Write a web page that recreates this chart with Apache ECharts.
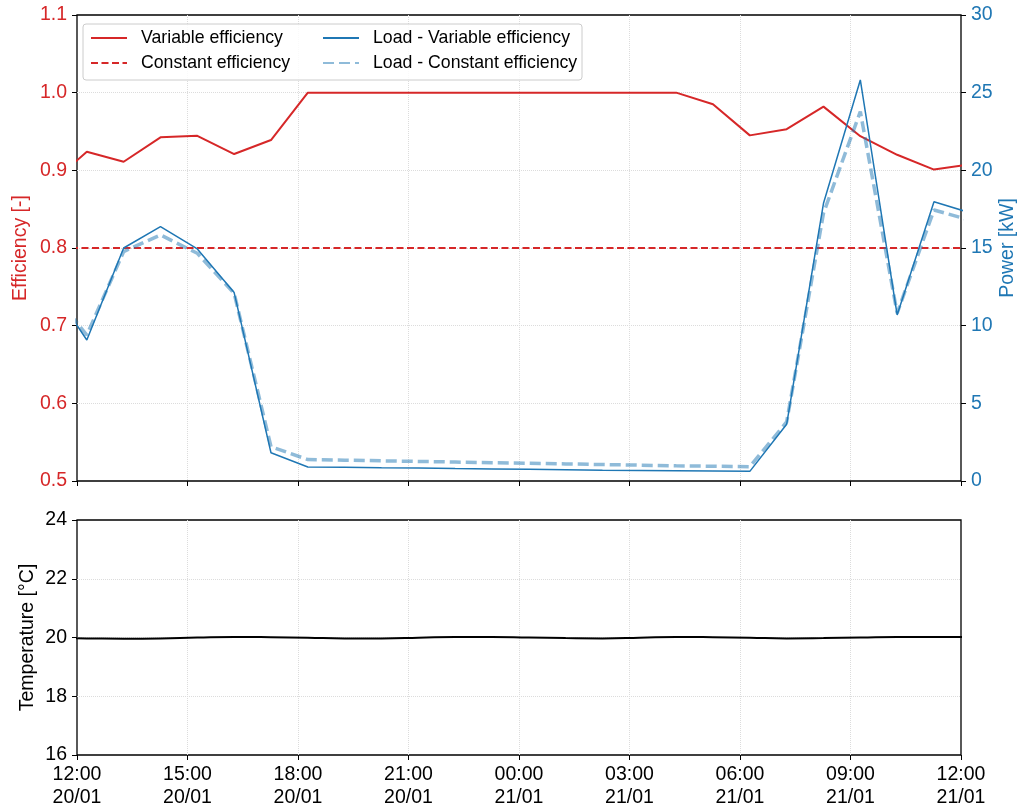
<!DOCTYPE html>
<html>
<head>
<meta charset="utf-8">
<script src="https://cdn.jsdelivr.net/npm/echarts@6/dist/echarts.min.js"></script>
<style>
html, body { margin: 0; padding: 0; background: #fff; }
#main { width: 1019px; height: 807px; }
</style>
</head>
<body>
<div id="main"></div>
<script>
// hourly samples (UTC), first and last fall just outside the visible window
var times = [
	'2021-01-20T11:16', '2021-01-20T12:16', '2021-01-20T13:16', '2021-01-20T14:16', '2021-01-20T15:16',
	'2021-01-20T16:16', '2021-01-20T17:16', '2021-01-20T18:16', '2021-01-20T19:16', '2021-01-20T20:16',
	'2021-01-20T21:16', '2021-01-20T22:16', '2021-01-20T23:16', '2021-01-21T00:16', '2021-01-21T01:16',
	'2021-01-21T02:16', '2021-01-21T03:16', '2021-01-21T04:16', '2021-01-21T05:16', '2021-01-21T06:16',
	'2021-01-21T07:16', '2021-01-21T08:16', '2021-01-21T09:16', '2021-01-21T10:16', '2021-01-21T11:16',
	'2021-01-21T12:16'
];
var varEff = [0.882, 0.924, 0.911, 0.9425, 0.9445, 0.921, 0.939, 1.0, 1.0, 1.0, 1.0, 1.0, 1.0,
	1.0, 1.0, 1.0, 1.0, 1.0, 0.985, 0.945, 0.953, 0.982, 0.944, 0.920, 0.901, 0.908];
var constEff = [0.8, 0.8, 0.8, 0.8, 0.8, 0.8, 0.8, 0.8, 0.8, 0.8, 0.8, 0.8, 0.8,
	0.8, 0.8, 0.8, 0.8, 0.8, 0.8, 0.8, 0.8, 0.8, 0.8, 0.8, 0.8, 0.8];
var loadVar = [12.6, 9.08, 15.0, 16.38, 14.94, 12.13, 1.82, 0.9, 0.88, 0.85, 0.83, 0.80, 0.78,
	0.75, 0.73, 0.70, 0.68, 0.66, 0.64, 0.62, 3.65, 17.88, 25.82, 10.69, 17.98, 17.25];
var loadConst = [12.3, 9.4, 14.77, 15.84, 14.66, 12.08, 2.21, 1.38, 1.34, 1.30, 1.26, 1.22, 1.18,
	1.14, 1.10, 1.06, 1.02, 0.98, 0.95, 0.92, 3.8, 17.24, 23.78, 10.8, 17.45, 16.78];
var temperature = [19.98, 19.97, 19.96, 19.97, 20.0, 20.02, 20.01, 19.99, 19.97, 19.97, 19.99, 20.02, 20.02,
	20.0, 19.98, 19.97, 19.99, 20.02, 20.01, 19.99, 19.97, 19.98, 20.0, 20.02, 20.02, 20.01];

var effTicks = [0.5, 1.1, 0.1];
var powerTicks = [0, 30, 5];
var tempTicks = [16, 24, 2];

var RED = '#d62728';
var BLUE = '#1f77b4';
var FONT = 'Liberation Sans, Arial, sans-serif';
var FS = 19.5;
var HOUR = 3600 * 1000;
var tStart = Date.UTC(2021, 0, 20, 12);
var tEnd = Date.UTC(2021, 0, 21, 12);

function ts(s) { return new Date(s + ':00Z').getTime(); }
function pair(vals) {
	return vals.map(function (v, i) { return [ts(times[i]), v]; });
}
function pad(n) { return (n < 10 ? '0' : '') + n; }

var gridLine = { show: true, showMinLine: false, showMaxLine: false, lineStyle: { type: 'dotted', color: '#dcdcdc', width: 1 } };
var tick = { show: true, length: 5, lineStyle: { color: '#000', width: 1 } };

function timeAxis(idx, showLabel) {
	return {
		type: 'value', gridIndex: idx, min: tStart, max: tEnd, interval: 3 * HOUR,
		axisLine: { show: false }, axisTick: tick, splitLine: gridLine,
		axisLabel: {
			show: showLabel, color: '#000', fontSize: FS, fontFamily: FONT, lineHeight: 23, margin: 8,
			formatter: function (v) {
				var d = new Date(v);
				return pad(d.getUTCHours()) + ':' + pad(d.getUTCMinutes()) + '\n' +
					pad(d.getUTCDate()) + '/' + pad(d.getUTCMonth() + 1);
			}
		}
	};
}

var myChart = echarts.init(document.getElementById('main'));

var option = {
	backgroundColor: '#fff',
	animation: false,
	grid: [
		{ left: 77, right: 58, top: 15, height: 466, containLabel: false, outerBoundsMode: 'none',
			show: true, borderColor: '#000', borderWidth: 1.3, backgroundColor: 'transparent' },
		{ left: 77, right: 58, top: 520, height: 235, containLabel: false, outerBoundsMode: 'none',
			show: true, borderColor: '#000', borderWidth: 1.3, backgroundColor: 'transparent' }
	],
	xAxis: [timeAxis(0, false), timeAxis(1, true)],
	yAxis: [
		{
			type: 'value', gridIndex: 0, min: effTicks[0], max: effTicks[1], interval: effTicks[2],
			name: 'Efficiency [-]', nameLocation: 'middle', nameGap: 46, nameMoveOverlap: false,
			nameTextStyle: { color: RED, fontSize: FS, fontFamily: FONT },
			axisLine: { show: false }, axisTick: tick, splitLine: gridLine,
			axisLabel: { color: RED, fontSize: FS, fontFamily: FONT, margin: 10, formatter: function (v) { return v.toFixed(1); } }
		},
		{
			type: 'value', gridIndex: 0, position: 'right', min: powerTicks[0], max: powerTicks[1], interval: powerTicks[2],
			name: 'Power [kW]', nameLocation: 'middle', nameGap: 37, nameRotate: 90, nameMoveOverlap: false,
			nameTextStyle: { color: BLUE, fontSize: FS, fontFamily: FONT },
			axisLine: { show: false }, axisTick: tick, splitLine: { show: false },
			axisLabel: { color: BLUE, fontSize: FS, fontFamily: FONT, margin: 10 }
		},
		{
			type: 'value', gridIndex: 1, min: tempTicks[0], max: tempTicks[1], interval: tempTicks[2],
			name: 'Temperature [°C]', nameLocation: 'middle', nameGap: 39, nameMoveOverlap: false,
			nameTextStyle: { color: '#000', fontSize: FS, fontFamily: FONT },
			axisLine: { show: false }, axisTick: tick, splitLine: gridLine,
			axisLabel: { color: '#000', fontSize: FS, fontFamily: FONT, margin: 10 }
		}
	],
	graphic: [{
		type: 'rect', z: 3,
		shape: { x: 83, y: 24, width: 499, height: 56, r: 3 },
		style: { fill: 'rgba(255,255,255,0.85)', stroke: '#cccccc', lineWidth: 1 }
	}],
	legend: [
		{
			left: 90, top: 29, padding: 0, orient: 'vertical', itemWidth: 36, itemHeight: 14, itemGap: 7,
			data: ['Variable efficiency', 'Constant efficiency'],
			itemStyle: { color: 'transparent', borderColor: 'transparent', borderWidth: 0 },
			textStyle: { color: '#000', fontSize: 17.7, fontFamily: FONT, padding: [0, 0, 0, 9] }
		},
		{
			left: 322, top: 29, padding: 0, orient: 'vertical', itemWidth: 36, itemHeight: 14, itemGap: 7,
			data: ['Load - Variable efficiency', 'Load - Constant efficiency'],
			itemStyle: { color: 'transparent', borderColor: 'transparent', borderWidth: 0 },
			textStyle: { color: '#000', fontSize: 17.7, fontFamily: FONT, padding: [0, 0, 0, 9] }
		}
	],
	series: [
		{
			name: 'Variable efficiency', type: 'line', xAxisIndex: 0, yAxisIndex: 0, symbol: 'none',
			data: pair(varEff), color: RED, lineStyle: { color: RED, width: 2 }
		},
		{
			name: 'Constant efficiency', type: 'line', xAxisIndex: 0, yAxisIndex: 0, symbol: 'none',
			data: pair(constEff), color: RED, lineStyle: { color: RED, width: 2, type: [7, 3.5] }
		},
		{
			name: 'Load - Variable efficiency', type: 'line', xAxisIndex: 0, yAxisIndex: 1, symbol: 'none',
			data: pair(loadVar), color: BLUE, lineStyle: { color: BLUE, width: 1.5 }
		},
		{
			name: 'Load - Constant efficiency', type: 'line', xAxisIndex: 0, yAxisIndex: 1, symbol: 'none',
			data: pair(loadConst), color: 'rgba(31,119,180,0.5)',
			lineStyle: { color: 'rgba(31,119,180,0.5)', width: 3.5, type: [11, 5] }
		},
		{
			name: 'Temperature', type: 'line', xAxisIndex: 1, yAxisIndex: 2, symbol: 'none', smooth: true,
			data: pair(temperature), color: '#000', lineStyle: { color: '#000', width: 2 }
		}
	]
};

myChart.setOption(option);
</script>
</body>
</html>
